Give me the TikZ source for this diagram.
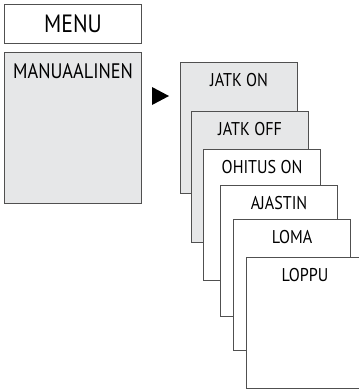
\documentclass[tikz,border=0pt]{standalone}
\usepackage{fontspec}
\setmainfont[FakeStretch=0.87]{PT Sans}
\usetikzlibrary{positioning}
\definecolor{mnline}{HTML}{505050}
\definecolor{mngray}{HTML}{E6E7E8}
\begin{document}
\begin{tikzpicture}[x=1pt, y=-1pt,
  every node/.style={font=\fontsize{18.5}{20}\selectfont},
  menubox/.style={rectangle, draw=mnline, line width=1.1pt, fill=#1, anchor=north west, minimum width=137pt, inner sep=0pt},
  card/.style={rectangle, draw=mnline, line width=1.1pt, fill=#1, anchor=north west, minimum width=117pt, minimum height=131pt, inner sep=0pt},
  cardlabel/.style={anchor=base, inner sep=0pt},
]

% page frame
\clip (0,0) rectangle (359,389);

% menu header and selected entry
\node[menubox=white, minimum height=39pt, font=\fontsize{25}{28}\selectfont] (menu) at (4,4) {MENU};
\node[menubox=mngray, minimum height=151pt] (manual) at (4,52) {};
\node[cardlabel, font=\fontsize{21}{24}\selectfont] (manualtxt) at ([yshift=-26pt]manual.north) {MANUAALINEN};

% pointer
\fill[black] (152,87) -- (152,105) -- (169,96) -- cycle;

% stacked sub menu cards (back to front)
\node[card=mngray] (c1) at (180,62) {};
\node[cardlabel] (t1) at ([yshift=-24pt]c1.north) {JATK ON};

\node[card=mngray] (c2) at (191,111) {};
\node[cardlabel] (t2) at ([yshift=-24pt]c2.north) {JATK OFF};

\node[card=white] (c3) at (203,149) {};
\node[cardlabel] (t3) at ([yshift=-24pt]c3.north) {OHITUS ON};

\node[card=white] (c4) at (220,185) {};
\node[cardlabel] (t4) at ([yshift=-24pt]c4.north) {AJASTIN};

\node[card=white] (c5) at (233,219) {};
\node[cardlabel] (t5) at ([yshift=-24pt]c5.north) {LOMA};

\node[card=white] (c6) at (246,257) {};
\node[cardlabel] (t6) at ([yshift=-24pt]c6.north) {LOPPU};

\end{tikzpicture}
\end{document}
